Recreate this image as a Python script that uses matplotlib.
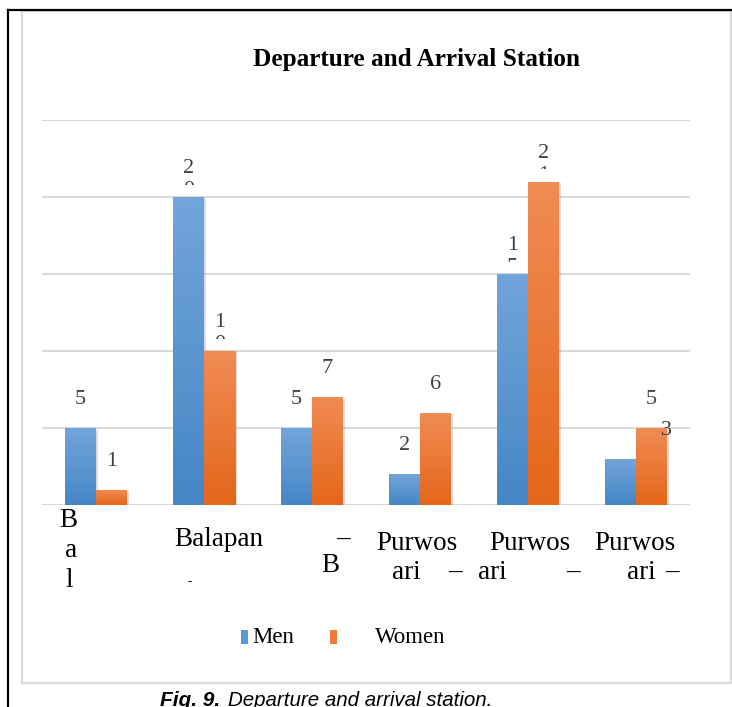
import matplotlib.pyplot as plt
import matplotlib.patheffects as pe
from matplotlib.patches import Rectangle
from matplotlib.lines import Line2D
from matplotlib.colors import LinearSegmentedColormap
from matplotlib.transforms import Bbox, TransformedBbox
import numpy as np

# data
series = ["Men", "Women"]
men = [5, 20, 5, 2, 15, 3]
women = [1, 10, 7, 6, 21, 5]
# category labels as they come out of the wrapped text boxes
tick_text = [["B", "a", "l"],
             ["Balapan", "-"],
             ["\u2013", "B"],
             ["Purwos", "ari", "\u2013"],
             ["Purwos", "ari", "\u2013"],
             ["Purwos", "ari", "\u2013"]]

# layout (pixels from the top-left corner)
tick_pos = [[(68, 527), (71, 557), (69, 587)],
            [(219, 546), (190, 585)],
            [(343, 546), (330, 572)],
            [(416.5, 550), (406, 579), (455, 579)],
            [(530, 550), (492.5, 579), (573, 579)],
            [(634.5, 550), (641, 579), (672, 579)]]
men_label_dx = [0, 0, 0, 0, 0, 46]    # px shift of the value label
women_label_dx = [0, 0, 0, 0, 0, 0]

W, H = 732, 707
SERIF = "Liberation Serif"
fig = plt.figure(figsize=(W / 100, H / 100), dpi=100)


def fx(x):
    return x / W


def fy(y):
    return 1 - y / H


# page frame and chart border
fig.add_artist(Line2D([fx(8), fx(8)], [fy(10), fy(707)], color="black", lw=1.6, transform=fig.transFigure))
fig.add_artist(Line2D([fx(8), fx(732)], [fy(10), fy(10)], color="black", lw=1.6, transform=fig.transFigure))
fig.add_artist(Rectangle((fx(22), fy(683)), fx(731) - fx(22), fy(11) - fy(683), transform=fig.transFigure,
                         fill=False, edgecolor="#d9d9d9", lw=1.6))

ax = fig.add_axes([fx(42), fy(505), fx(690) - fx(42), fy(120) - fy(505)])
x = np.arange(len(men))
bw = 31 / 108
unit_px = 385 / 25   # pixels per unit on the y axis

blue_cm = LinearSegmentedColormap.from_list("blue", ["#4586c6", "#72a5da"])
orange_cm = LinearSegmentedColormap.from_list("orange", ["#e4661a", "#f08c54"])
grad = np.linspace(0, 1, 256).reshape(-1, 1)
shadow = [pe.SimplePatchShadow(offset=(1.2, -1.2), shadow_rgbFace="#909090", alpha=0.3), pe.Normal()]

bars_m = ax.bar(x - bw / 2, men, bw, color="#5b9bd5", zorder=3, path_effects=shadow)
bars_w = ax.bar(x + bw / 2, women, bw, color="#ed7d31", zorder=3, path_effects=shadow)
for bars, cm in ((bars_m, blue_cm), (bars_w, orange_cm)):
    for r in bars:
        x0, w, h = r.get_x(), r.get_width(), r.get_height()
        im = ax.imshow(grad, extent=[x0, x0 + w, 0, h], cmap=cm, aspect="auto", origin="lower", zorder=3.5)
        im.set_clip_path(r)

# value labels; two-digit values wrap onto a second line that is cut off above the bar
for vals, dxs, off in ((men, men_label_dx, -bw / 2), (women, women_label_dx, bw / 2)):
    for i, v in enumerate(vals):
        lx = i + off + dxs[i] / 108
        s = str(v)
        base = v + 24 / unit_px
        ax.text(lx, base, s[0], ha="center", va="baseline", fontsize=16,
                color="#404040", family=SERIF, zorder=5)
        if len(s) > 1:
            t = ax.text(lx, base - 22 / unit_px, s[1:], ha="center", va="baseline", fontsize=16,
                        color="#404040", family=SERIF, zorder=5)
            t.set_clip_box(TransformedBbox(Bbox([[lx - 0.5, v + 12.5 / unit_px], [lx + 0.5, 30]]), ax.transData))
            t.set_clip_on(True)

ax.set_xlim(-0.5, len(men) - 0.5)
ax.set_ylim(0, 25)
ax.set_yticks(range(0, 26, 5))
ax.yaxis.grid(True, color="#d9d9d9", lw=1.5)
ax.set_axisbelow(True)
ax.tick_params(length=0, labelleft=False, labelbottom=False)
for s in ax.spines.values():
    s.set_visible(False)

# category labels
for parts, pos in zip(tick_text, tick_pos):
    for s, (px_, py_) in zip(parts, pos):
        size = 9 if s == "-" else 19.5
        fig.text(fx(px_), fy(py_), s, ha="center", va="baseline", fontsize=size, family=SERIF, color="black")

fig.text(fx(416.5), fy(66), "Departure and Arrival Station", ha="center", va="baseline",
         fontsize=18.2, fontweight="bold", family=SERIF)

# legend
for (sx, tx), name, c in zip(((241, 252), (330, 375)), series, ("#5b9bd5", "#ed7d31")):
    fig.add_artist(Rectangle((fx(sx), fy(644)), fx(7), fy(630) - fy(644), transform=fig.transFigure,
                             facecolor=c, edgecolor="none"))
    fig.text(fx(tx), fy(643), name, ha="left", va="baseline", fontsize=16.5, family=SERIF)

# caption
fig.text(fx(160), fy(706), "Fig. 9.", ha="left", va="baseline", fontsize=15, family="Liberation Sans",
         fontweight="bold", style="italic")
fig.text(fx(228), fy(706), "Departure and arrival station.", ha="left", va="baseline", fontsize=14.8,
         family="Liberation Sans", style="italic")

fig.savefig("out.png", dpi=100)
